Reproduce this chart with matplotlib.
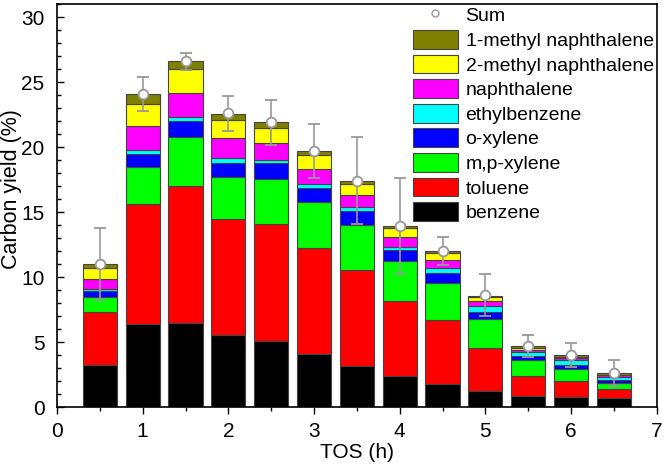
import matplotlib
matplotlib.use("Agg")
import matplotlib.pyplot as plt
from matplotlib.ticker import MultipleLocator
from matplotlib.lines import Line2D
import numpy as np

plt.rcParams['font.family'] = ['Liberation Sans', 'DejaVu Sans']

tos = [0.5, 1.0, 1.5, 2.0, 2.5, 3.0, 3.5, 4.0, 4.5, 5.0, 5.5, 6.0, 6.5]

benzene      = [3.25, 6.4, 6.45, 5.54, 5.05, 4.05, 3.18, 2.35, 1.8, 1.25, 0.82, 0.77, 0.66]
toluene      = [4.10, 9.2, 10.55, 8.96, 9.00, 8.15, 7.38, 5.83, 4.86, 3.31, 1.53, 1.25, 0.74]
mp_xylene    = [1.15, 2.9, 3.8, 3.2, 3.51, 3.6, 3.44, 3.07, 2.92, 2.24, 1.23, 0.90, 0.45]
o_xylene     = [0.40, 1.0, 1.2, 1.1, 1.21, 1.05, 1.05, 0.80, 0.77, 0.55, 0.32, 0.33, 0.20]
ethylbenzene = [0.17, 0.3, 0.35, 0.35, 0.23, 0.35, 0.35, 0.30, 0.31, 0.39, 0.30, 0.33, 0.25]
naphthalene  = [0.78, 1.8, 1.85, 1.55, 1.30, 1.10, 0.90, 0.73, 0.67, 0.38, 0.15, 0.19, 0.13]
methyl2_naph = [0.81, 1.7, 1.8, 1.35, 1.20, 1.10, 0.90, 0.69, 0.52, 0.34, 0.19, 0.08, 0.07]
methyl1_naph = [0.34, 0.8, 0.6, 0.51, 0.40, 0.30, 0.20, 0.13, 0.12, 0.12, 0.12, 0.12, 0.10]
total_sum    = [11.0, 24.1, 26.6, 22.6, 21.9, 19.7, 17.4, 13.9, 12.0, 8.6, 4.7, 4.0, 2.6]
sum_err      = [2.75, 1.3, 0.65, 1.35, 1.75, 2.05, 3.35, 3.7, 1.1, 1.6, 0.85, 0.9, 1.0]

series = [
    ("benzene", benzene, "#000000"),
    ("toluene", toluene, "#ff0000"),
    ("m,p-xylene", mp_xylene, "#00ff00"),
    ("o-xylene", o_xylene, "#0000ff"),
    ("ethylbenzene", ethylbenzene, "#00ffff"),
    ("naphthalene", naphthalene, "#ff00ff"),
    ("2-methyl naphthalene", methyl2_naph, "#ffff00"),
    ("1-methyl naphthalene", methyl1_naph, "#808000"),
]

fig = plt.figure(figsize=(6.66, 4.65), dpi=100)
ax = fig.add_axes([0.0856, 0.1247, 0.9004, 0.8663])

bottom = np.zeros(len(tos))
handles = []
for name, vals, col in series:
    b = ax.bar(tos, vals, width=0.4, bottom=bottom, color=col,
               edgecolor="#444444", linewidth=0.8, label=name, zorder=2)
    bottom += np.array(vals)
    handles.append(b)

ax.errorbar(tos, total_sum, yerr=sum_err, fmt='o', color='#999999',
            ecolor='#999999', elinewidth=1.2, capsize=4, capthick=1.2,
            markersize=7, markerfacecolor='white', markeredgecolor='#999999',
            markeredgewidth=1.3, zorder=5)

sum_handle = Line2D([], [], marker='o', linestyle='none', markersize=5,
                    markerfacecolor='white', markeredgecolor='#999999',
                    markeredgewidth=1.0)

leg = ax.legend([sum_handle] + handles[::-1], ["Sum"] + [s[0] for s in series][::-1],
                loc='upper right', frameon=False, fontsize=14,
                handlelength=2.3, handleheight=1.1, labelspacing=0.24,
                handletextpad=0.4, borderaxespad=0.0, borderpad=0.0,
                bbox_to_anchor=(0.995, 0.997))

ax.set_xlim(0, 7)
ax.set_ylim(0, 31)
ax.xaxis.set_major_locator(MultipleLocator(1))
ax.xaxis.set_minor_locator(MultipleLocator(0.5))
ax.yaxis.set_major_locator(MultipleLocator(5))
ax.yaxis.set_minor_locator(MultipleLocator(1))
ax.tick_params(axis='x', which='both', direction='out', labelsize=15, pad=6)
ax.tick_params(axis='y', which='both', direction='in', labelsize=15, pad=9)
ax.tick_params(which='major', length=5, width=1)
ax.tick_params(which='minor', length=3, width=1)
for sp in ax.spines.values():
    sp.set_linewidth(1.2)

ax.set_xlabel("TOS (h)", fontsize=15, labelpad=1)
ax.set_ylabel("Carbon yield (%)", fontsize=15.5)
ax.yaxis.set_label_coords(-0.058, 0.541)

fig.savefig("out.png", dpi=100)
